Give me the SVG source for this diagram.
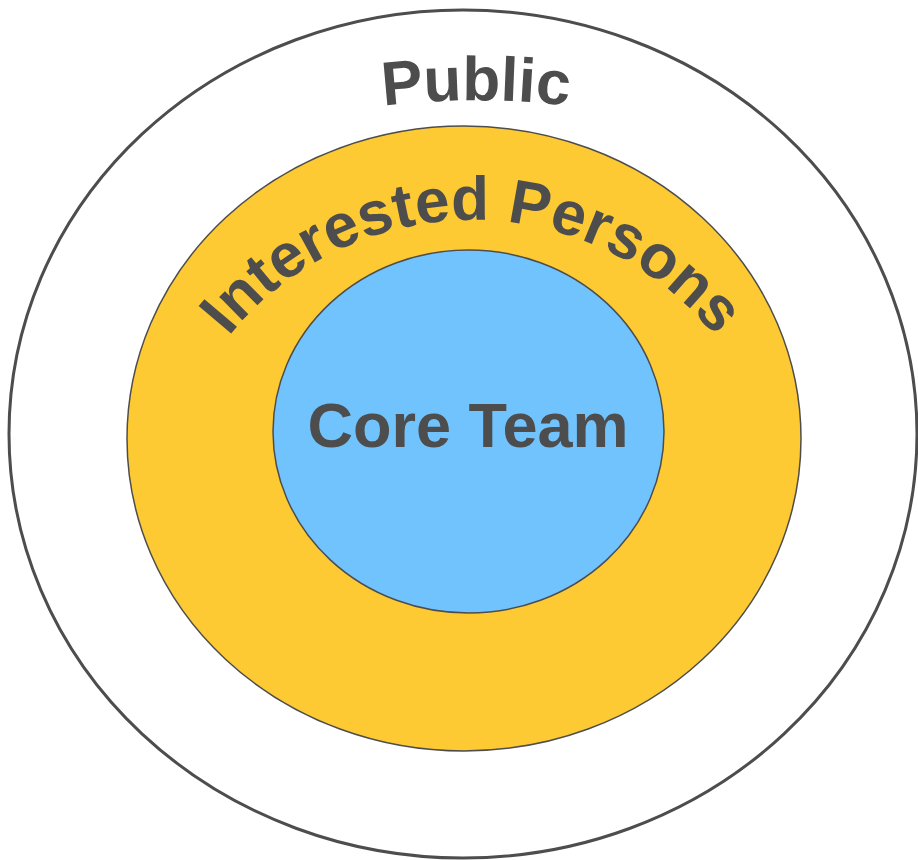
<svg xmlns="http://www.w3.org/2000/svg" width="918" height="860" viewBox="0 0 918 860">
<style>
.lbl{font-family:"Liberation Sans",Arial,sans-serif;font-weight:bold;fill:#4d4d4d}
</style>
<defs>
<path id="arcPublic" d="M -324,900 A 800 800 0 0 1 1276,900"/>
<path id="arcInterested" d="M 160,532 A 312 312 0 0 1 784,532"/>
</defs>
<rect width="918" height="860" fill="#ffffff"/>
<g id="public">
<ellipse cx="463" cy="434" rx="454" ry="424" fill="#ffffff" stroke="#4d4d4d" stroke-width="3"/>
<text class="lbl" font-size="62" text-anchor="middle"><textPath href="#arcPublic" startOffset="50%">Public</textPath></text>
</g>
<g id="interested">
<ellipse cx="464" cy="438.5" rx="337" ry="312.5" fill="#fdca33" stroke="#4d4d4d" stroke-width="1.5"/>
<text class="lbl" font-size="62" text-anchor="middle"><textPath href="#arcInterested" startOffset="50%">Interested Persons</textPath></text>
</g>
<g id="core">
<ellipse cx="468.5" cy="431.5" rx="195.5" ry="181.5" fill="#71c3fe" stroke="#4d4d4d" stroke-width="1.5"/>
<text class="lbl" x="468" y="447" font-size="63" text-anchor="middle">Core Team</text>
</g>
</svg>
